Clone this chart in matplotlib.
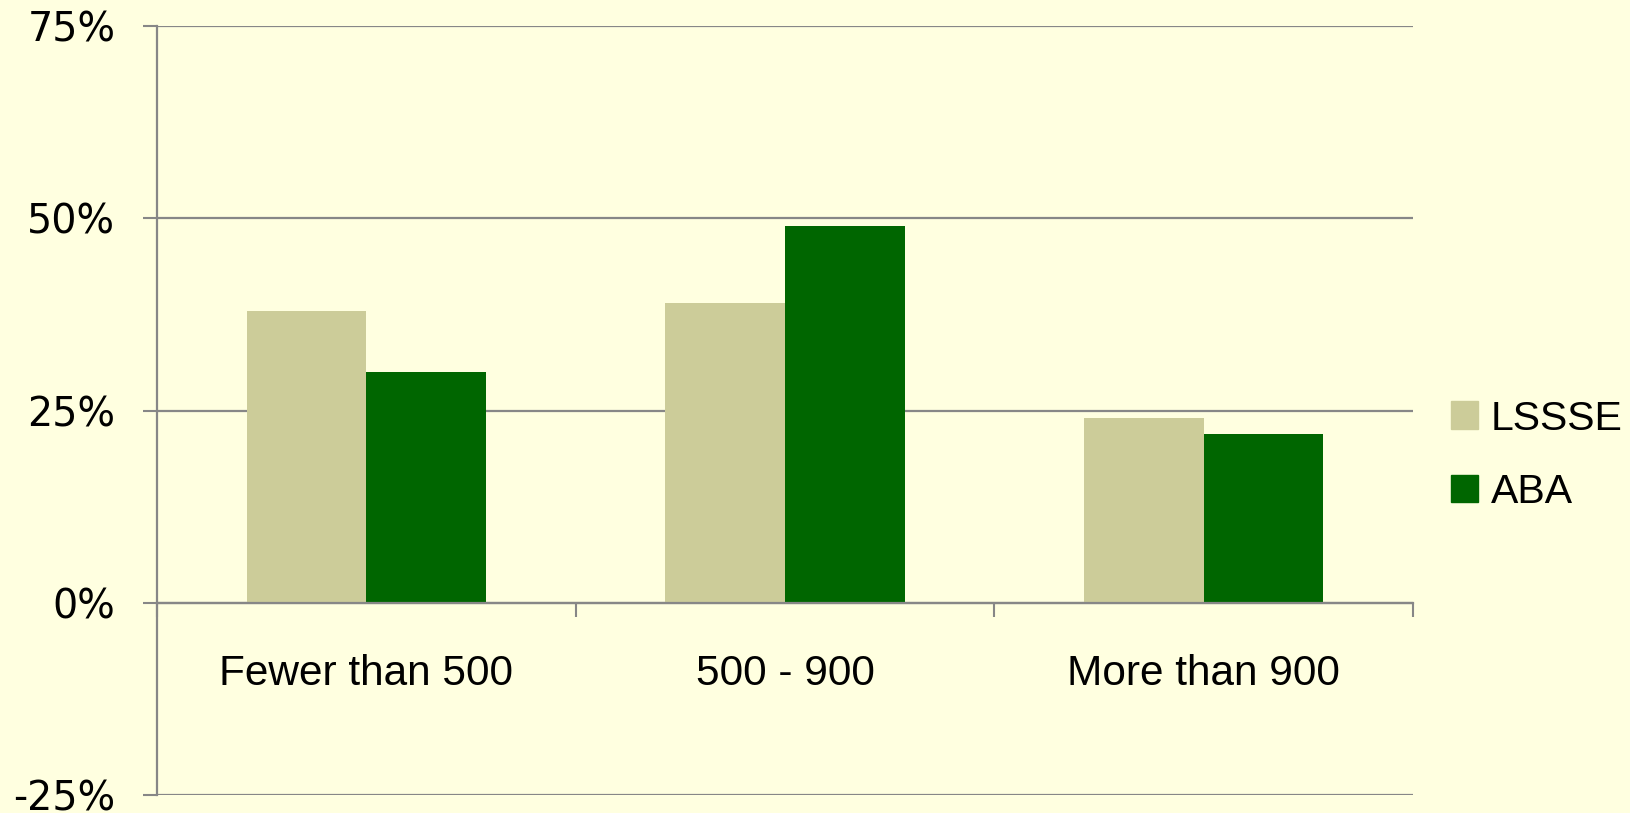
import numpy as np
import matplotlib.pyplot as plt
from matplotlib.patches import Patch

# %% Data
categories = ['Fewer than 500', '500 - 900', 'More than 900']
lssse = [38, 39, 24]
aba = [30, 49, 22]
y_ticks = [-25, 0, 25, 50, 75]

bg = '#FFFFE0'
c_lssse = '#CCCC99'
c_aba = '#006600'
grid_c = '#878787'

# %% Plot
fig = plt.figure(figsize=(16.31, 8.13), dpi=100, facecolor=bg)
ax = fig.add_axes([0.0963, 0.0221, 0.770, 0.9459], facecolor=bg)

x = np.arange(len(categories))
w = 0.286
ax.bar(x - w / 2, lssse, w, color=c_lssse, zorder=3)
ax.bar(x + w / 2, aba, w, color=c_aba, zorder=3)

# spines first: moving a spine resets the ticks
for s in ['top', 'right']:
    ax.spines[s].set_visible(False)
ax.spines['left'].set_color(grid_c)
ax.spines['left'].set_linewidth(1.6)
ax.spines['bottom'].set_position(('data', 0))
ax.spines['bottom'].set_color(grid_c)
ax.spines['bottom'].set_linewidth(1.6)
ax.spines['bottom'].set_zorder(4)

ax.set_xlim(-0.5, len(categories) - 0.5)
ax.set_ylim(-25, 75)
ax.set_yticks(y_ticks)
ax.set_yticklabels([f'{v}%' for v in y_ticks], fontsize=28.5, family='DejaVu Sans')
ax.yaxis.grid(True, color=grid_c, linewidth=1.6, zorder=1)

ax.set_xticks(np.arange(len(categories) + 1) - 0.5, minor=True)
ax.set_xticks(x)
ax.set_xticklabels(categories, fontsize=30.5, family='Liberation Sans')
ax.tick_params(axis='x', which='major', length=0, pad=37)
ax.tick_params(axis='x', which='minor', length=10, width=1.5, color=grid_c, direction='out')
ax.tick_params(axis='y', length=10, width=1.5, color=grid_c, direction='out', pad=20)

handles = [Patch(color=c_lssse), Patch(color=c_aba)]
fig.legend(handles, ['LSSSE', 'ABA'], loc='center left', bbox_to_anchor=(0.8896, 0.440),
           frameon=False, borderpad=0, borderaxespad=0, handlelength=0.66, handleheight=0.66,
           handletextpad=0.32, labelspacing=0.86,
           prop={'family': 'Liberation Sans', 'size': 29.5})

plt.savefig('out.png', dpi=100, facecolor=bg)
